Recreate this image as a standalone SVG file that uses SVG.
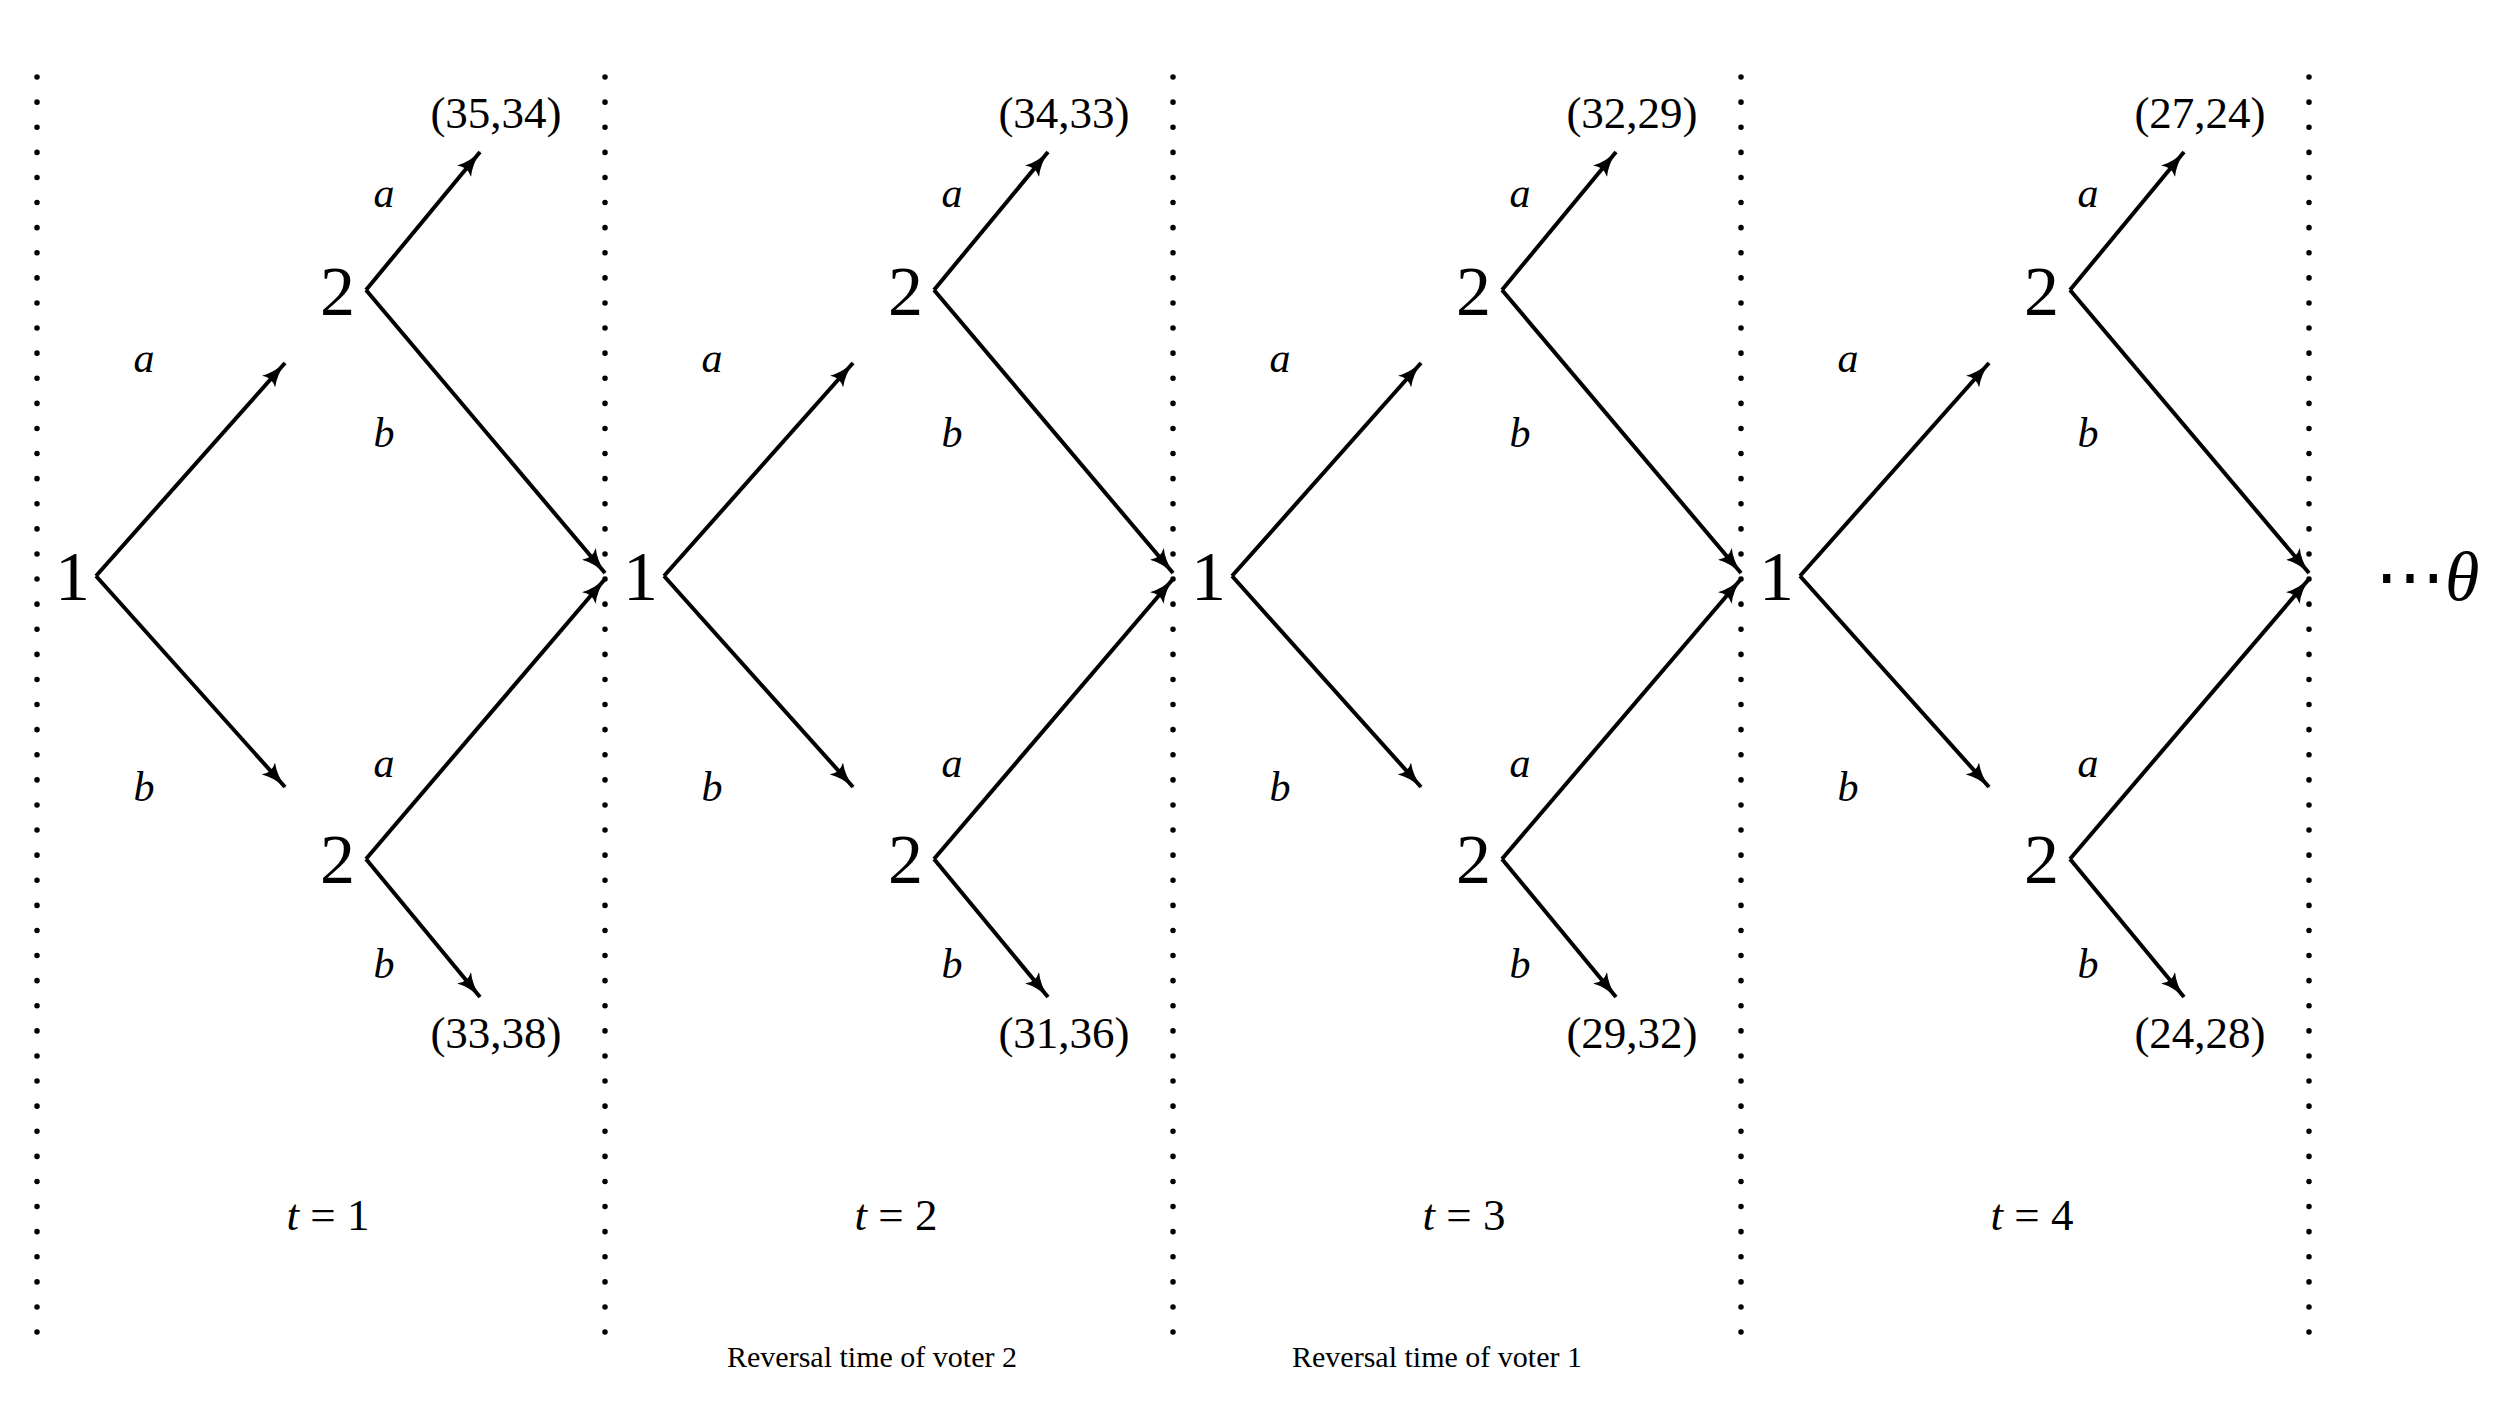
<svg xmlns="http://www.w3.org/2000/svg" width="2506" height="1402" viewBox="0 0 2506 1402">
<style>
.dot{stroke:#000;stroke-width:5.5;stroke-dasharray:0.1 25;stroke-linecap:round}
.e{stroke:#000;stroke-width:4;fill:none}
.n{font-family:"Liberation Serif",serif;font-size:70px;fill:#000}
.l{font-family:"Liberation Serif",serif;font-size:42px;font-style:italic;fill:#000;text-anchor:middle}
.p{font-family:"Liberation Serif",serif;font-size:45px;fill:#000;text-anchor:middle}
.r{font-family:"Liberation Serif",serif;font-size:30px;fill:#000;text-anchor:middle}
</style>
<defs>
<marker id="ah" viewBox="0 0 26 18" refX="25" refY="9" markerWidth="26" markerHeight="18" markerUnits="userSpaceOnUse" orient="auto">
<path d="M0,0 Q10,7 26,9 Q10,11 0,18 Q6,9 0,0 Z" fill="#000"/>
</marker>
<g id="period">
<path class="e" d="M96,576 L285,363" marker-end="url(#ah)"/>
<path class="e" d="M96,576 L285,787" marker-end="url(#ah)"/>
<path class="e" d="M366,290 L480,152" marker-end="url(#ah)"/>
<path class="e" d="M366,290 L605,573" marker-end="url(#ah)"/>
<path class="e" d="M366,859 L605,579" marker-end="url(#ah)"/>
<path class="e" d="M366,859 L480,997" marker-end="url(#ah)"/>
</g>
</defs>
<g id="guides">
<line class="dot" x1="37" y1="77" x2="37" y2="1357"/>
<line class="dot" x1="605" y1="77" x2="605" y2="1357"/>
<line class="dot" x1="1173" y1="77" x2="1173" y2="1357"/>
<line class="dot" x1="1741" y1="77" x2="1741" y2="1357"/>
<line class="dot" x1="2309" y1="77" x2="2309" y2="1357"/>
</g>
<g id="connectors">
<use href="#period"/>
<use href="#period" x="568"/>
<use href="#period" x="1136"/>
<use href="#period" x="1704"/>
</g>
<g id="nodes">
<g id="t1">
<text class="n" x="55" y="600">1</text>
<text class="n" x="320" y="315">2</text>
<text class="n" x="320" y="883">2</text>
<text class="l" x="144" y="372">a</text><text class="l" x="144" y="801">b</text>
<text class="l" x="384" y="207">a</text><text class="l" x="384" y="447">b</text>
<text class="l" x="384" y="777">a</text><text class="l" x="384" y="978">b</text>
<text class="p" x="496" y="128">(35,34)</text><text class="p" x="496" y="1048">(33,38)</text>
<text class="p" x="328" y="1230"><tspan font-style="italic">t</tspan> = 1</text>
</g>
<g id="t2" transform="translate(568,0)">
<text class="n" x="55" y="600">1</text>
<text class="n" x="320" y="315">2</text>
<text class="n" x="320" y="883">2</text>
<text class="l" x="144" y="372">a</text><text class="l" x="144" y="801">b</text>
<text class="l" x="384" y="207">a</text><text class="l" x="384" y="447">b</text>
<text class="l" x="384" y="777">a</text><text class="l" x="384" y="978">b</text>
<text class="p" x="496" y="128">(34,33)</text><text class="p" x="496" y="1048">(31,36)</text>
<text class="p" x="328" y="1230"><tspan font-style="italic">t</tspan> = 2</text>
<text class="r" x="304" y="1367">Reversal time of voter 2</text>
</g>
<g id="t3" transform="translate(1136,0)">
<text class="n" x="55" y="600">1</text>
<text class="n" x="320" y="315">2</text>
<text class="n" x="320" y="883">2</text>
<text class="l" x="144" y="372">a</text><text class="l" x="144" y="801">b</text>
<text class="l" x="384" y="207">a</text><text class="l" x="384" y="447">b</text>
<text class="l" x="384" y="777">a</text><text class="l" x="384" y="978">b</text>
<text class="p" x="496" y="128">(32,29)</text><text class="p" x="496" y="1048">(29,32)</text>
<text class="p" x="328" y="1230"><tspan font-style="italic">t</tspan> = 3</text>
<text class="r" x="301" y="1367">Reversal time of voter 1</text>
</g>
<g id="t4" transform="translate(1704,0)">
<text class="n" x="55" y="600">1</text>
<text class="n" x="320" y="315">2</text>
<text class="n" x="320" y="883">2</text>
<text class="l" x="144" y="372">a</text><text class="l" x="144" y="801">b</text>
<text class="l" x="384" y="207">a</text><text class="l" x="384" y="447">b</text>
<text class="l" x="384" y="777">a</text><text class="l" x="384" y="978">b</text>
<text class="p" x="496" y="128">(27,24)</text><text class="p" x="496" y="1048">(24,28)</text>
<text class="p" x="328" y="1230"><tspan font-style="italic">t</tspan> = 4</text>
</g>
<g id="theta">
<text class="n" x="2375" y="600">⋯<tspan font-style="italic">θ</tspan></text>
</g>
</g>
</svg>
